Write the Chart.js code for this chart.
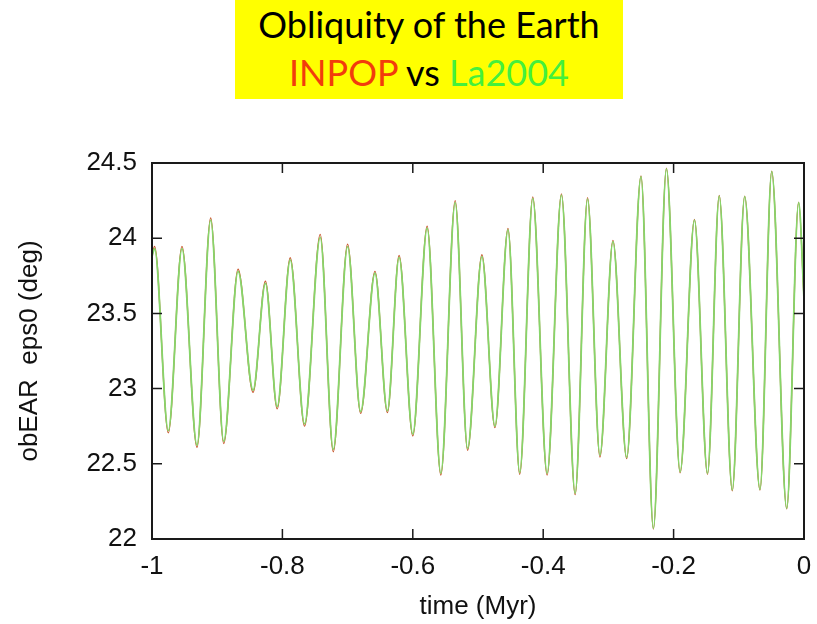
<!DOCTYPE html>
<html>
<head>
<meta charset="utf-8">
<script src="https://cdn.jsdelivr.net/npm/chart.js@4"></script>
<style>
	body { margin: 0; background: #fff; }
	#cabecera {
		position: absolute; left: 235px; top: 0; width: 388px; height: 99px;
		background: #ffff00; text-align: center; font-family: "Lato", sans-serif;
	}
	#linea1 { position: absolute; left: 0; right: 0; top: 4px; font-size: 36px; line-height: 40px; color: #000; }
	#linea2 { position: absolute; left: 0; right: 0; top: 52px; font-size: 36px; line-height: 40px; color: #000; }
	#grafico { position: absolute; left: 0; top: 0; }
</style>
</head>
<body>
<div id="cabecera">
	<div id="linea1">Obliquity of the Earth</div>
	<div id="linea2"><span style="color:#f23c0c">INPOP</span> vs <span style="color:#44f03c">La2004</span></div>
</div>
<canvas id="grafico" width="817" height="624"></canvas>
<script>
// Tiempo (Myr) de cada máximo / mínimo de la oblicuidad
const tiempos = [
	-1.0, -0.996, -0.975, -0.954, -0.931, -0.91, -0.89, -0.868, -0.845, -0.826,
	-0.808, -0.788, -0.766, -0.742, -0.722, -0.7, -0.68, -0.658, -0.639, -0.621,
	-0.6, -0.578, -0.557, -0.535, -0.516, -0.494, -0.474, -0.454, -0.436, -0.416,
	-0.394, -0.372, -0.351, -0.332, -0.313, -0.293, -0.272, -0.25, -0.231, -0.211,
	-0.19, -0.168, -0.148, -0.13, -0.11, -0.091, -0.0675, -0.0495, -0.0265, -0.0082,
	0.0,
];

// Oblicuidad (grados) según La2004
const la2004 = [
	23.88, 23.93, 22.72, 23.93, 22.625, 24.12, 22.65, 23.78, 22.99, 23.70,
	22.88, 23.855, 22.765, 24.006, 22.596, 23.944, 22.847, 23.767, 22.853, 23.873,
	22.698, 24.066, 22.437, 24.236, 22.603, 23.877, 22.751, 24.055, 22.441, 24.265,
	22.437, 24.287, 22.304, 24.26, 22.558, 23.977, 22.543, 24.409, 22.071, 24.46,
	22.447, 24.12, 22.437, 24.28, 22.326, 24.276, 22.33, 24.442, 22.204, 24.236,
	23.6,
];

// Oblicuidad (grados) según INPOP
const inpop = [
	23.885, 23.945, 22.705, 23.945, 22.61, 24.135, 22.635, 23.795, 22.975, 23.715,
	22.865, 23.87, 22.75, 24.025, 22.58, 23.96, 22.835, 23.78, 22.84, 23.885,
	22.685, 24.08, 22.425, 24.25, 22.59, 23.89, 22.74, 24.065, 22.43, 24.275,
	22.425, 24.295, 22.295, 24.27, 22.545, 23.985, 22.535, 24.415, 22.065, 24.465,
	22.44, 24.125, 22.43, 24.285, 22.32, 24.28, 22.325, 24.445, 22.2, 24.24,
	23.6,
];

const ticksX = [-1, -0.8, -0.6, -0.4, -0.2, 0];
const ticksY = [22, 22.5, 23, 23.5, 24, 24.5];

const puntos = (ys) => tiempos.map((t, i) => ({ x: t, y: ys[i] }));

// Dibuja el marco y las marcas hacia dentro en los cuatro lados
const marco = {
	id: "marco",
	afterDraw(chart) {
		const { ctx, chartArea: a, scales } = chart;
		ctx.save();
		ctx.strokeStyle = "#1a1a1a";
		ctx.lineWidth = 1.5;
		ctx.beginPath();
		ticksX.forEach((v) => {
			const px = scales.x.getPixelForValue(v);
			ctx.moveTo(px, a.bottom);
			ctx.lineTo(px, a.bottom - 10);
			ctx.moveTo(px, a.top);
			ctx.lineTo(px, a.top + 10);
		});
		ticksY.forEach((v) => {
			const py = scales.y.getPixelForValue(v);
			ctx.moveTo(a.left, py);
			ctx.lineTo(a.left + 10, py);
			ctx.moveTo(a.right, py);
			ctx.lineTo(a.right - 10, py);
		});
		ctx.stroke();
		ctx.lineWidth = 2;
		ctx.strokeRect(a.left, a.top, a.right - a.left, a.bottom - a.top);
		ctx.restore();
	},
};

const fuente = { family: "'Liberation Sans', Arial, sans-serif", size: 26 };

const graph = new Chart(document.getElementById("grafico"), {
	type: "line",
	data: {
		datasets: [
			{
				label: "La2004",
				data: puntos(la2004),
				borderColor: "#86d66a",
				borderWidth: 1.8,
				pointRadius: 0,
				cubicInterpolationMode: "monotone",
				order: 0,
			},
			{
				label: "INPOP",
				data: puntos(inpop),
				borderColor: "#c8552c",
				borderWidth: 1.3,
				pointRadius: 0,
				cubicInterpolationMode: "monotone",
				order: 1,
			},
		],
	},
	options: {
		responsive: false,
		animation: false,
		layout: { padding: { top: 163, right: 13, left: 0, bottom: 0 } },
		plugins: { legend: { display: false }, tooltip: { enabled: false } },
		scales: {
			x: {
				type: "linear",
				min: -1,
				max: 0,
				grid: { display: false, drawTicks: false },
				border: { display: false },
				afterBuildTicks: (s) => { s.ticks = ticksX.map((v) => ({ value: v })); },
				afterFit: (s) => {
					s.height = 85;
					s.paddingLeft = 0;
					s.paddingRight = 0;
				},
				ticks: {
					color: "#111",
					font: fuente,
					padding: 12,
					maxRotation: 0,
					callback: (v) => String(Number(v.toFixed(1))),
				},
				title: { display: true, text: "time (Myr)", color: "#111", font: fuente, padding: { top: 0, bottom: 2 } },
			},
			y: {
				type: "linear",
				min: 22,
				max: 24.5,
				grid: { display: false, drawTicks: false },
				border: { display: false },
				afterBuildTicks: (s) => { s.ticks = ticksY.map((v) => ({ value: v })); },
				afterFit: (s) => { s.width = 152; },
				ticks: {
					color: "#111",
					font: fuente,
					padding: 15,
					callback: (v) => String(v),
				},
				title: { display: true, text: "obEAR  eps0 (deg)", color: "#111", font: fuente, padding: { top: 14, bottom: 0 } },
			},
		},
	},
	plugins: [marco],
});
</script>
</body>
</html>
